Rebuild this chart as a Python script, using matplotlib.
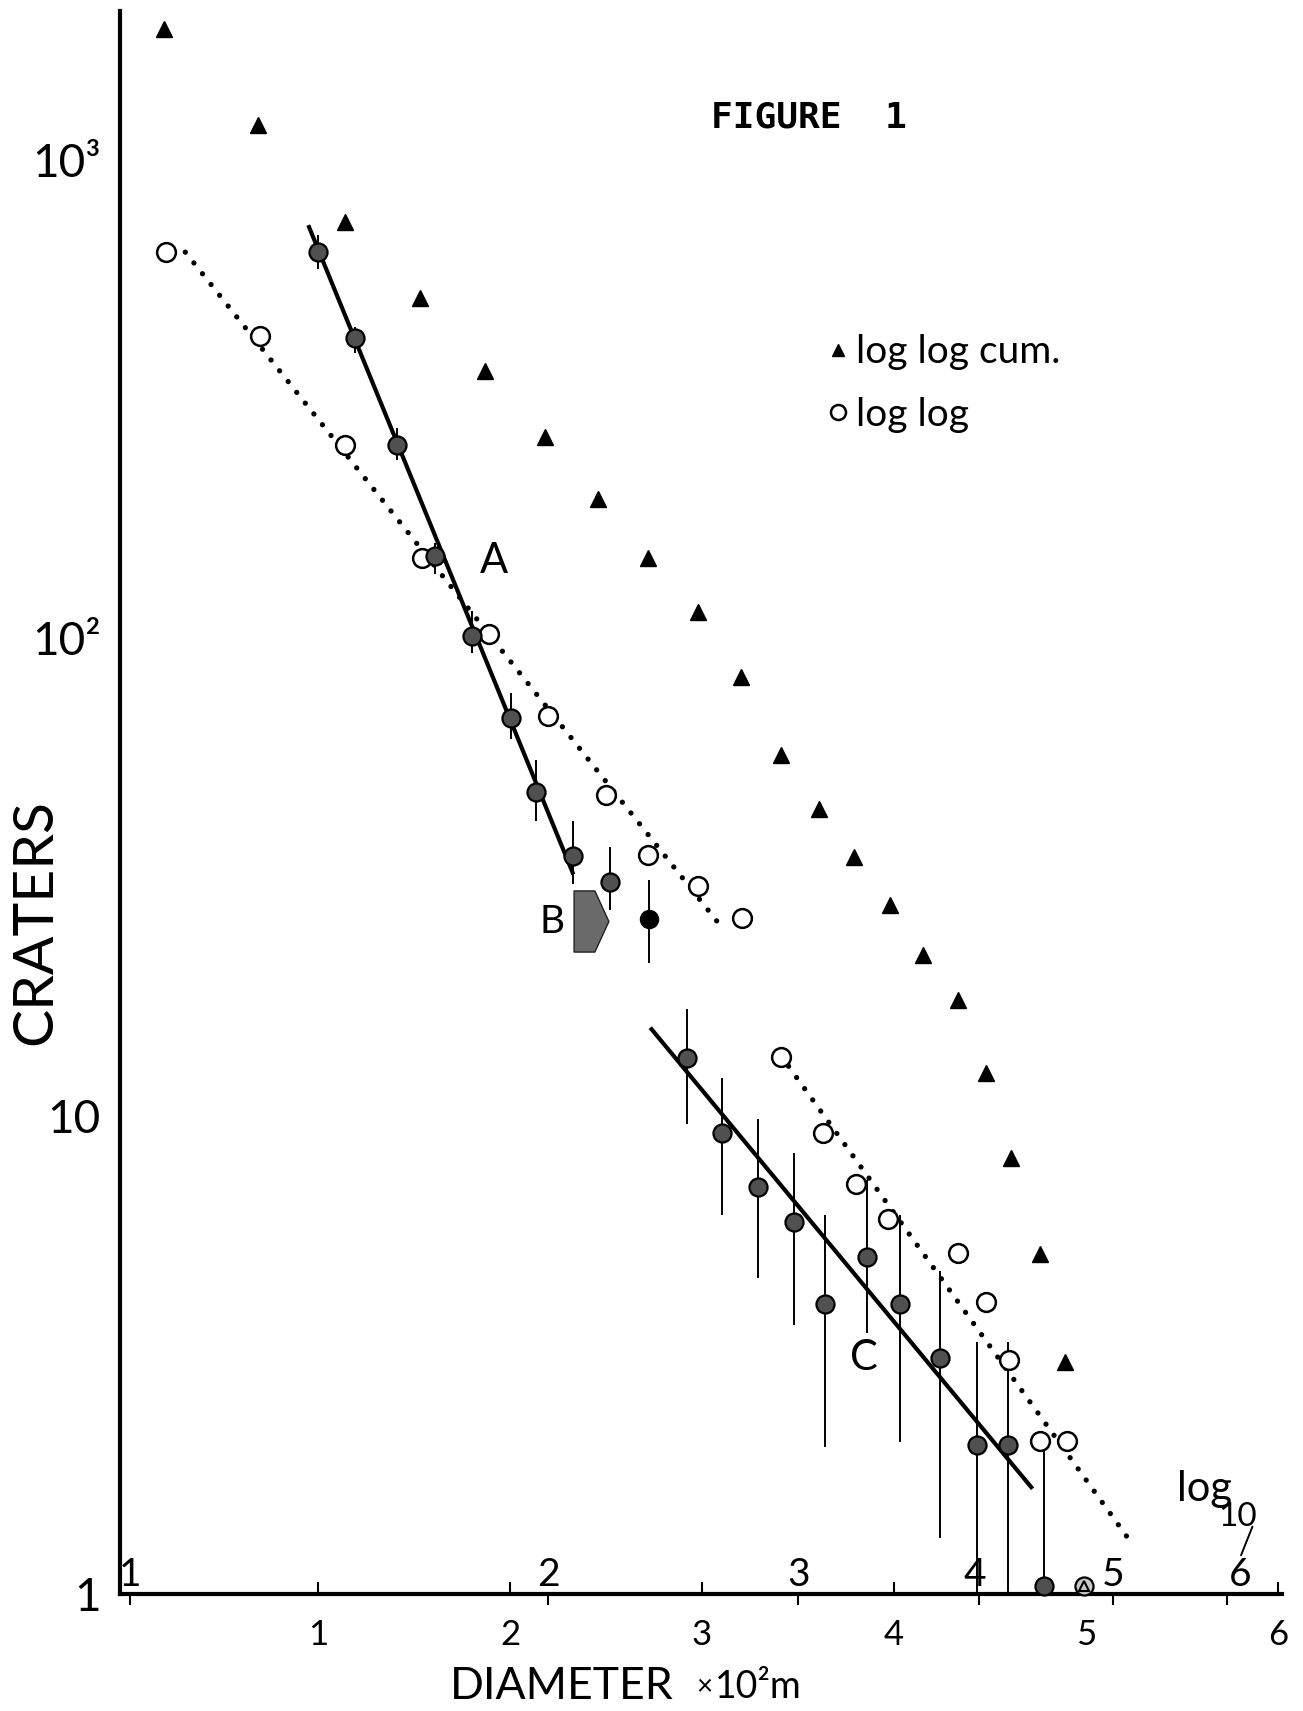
import matplotlib.pyplot as plt
from matplotlib.path import Path

plt.rcParams['font.family'] = ['Lato', 'DejaVu Sans']

# log log cum. (triangles)
cum_x = [0.20, 0.69, 1.14, 1.53, 1.87, 2.18, 2.46, 2.72, 2.98, 3.20,
         3.41, 3.61, 3.79, 3.98, 4.15, 4.33, 4.48, 4.61, 4.76, 4.89]
cum_y = [1880, 1183, 741, 513, 362, 263, 195, 147, 113, 82.8,
         57, 43.8, 34.8, 27.6, 21.7, 17.5, 12.3, 8.15, 5.13, 3.06]

# log log (open circles)
ll_x = [0.21, 0.70, 1.14, 1.54, 1.89, 2.20, 2.50, 2.72, 2.98, 3.21,
        3.41, 3.63, 3.80, 3.97, 4.33, 4.48, 4.60, 4.76, 4.90]
ll_y = [641, 427, 253, 147, 102, 68.5, 46.9, 35.1, 30.3, 25.9,
        13.3, 9.2, 7.2, 6.08, 5.16, 4.09, 3.08, 2.09, 2.09]

# shaded points with error bars
pt_x = [1.00, 1.195, 1.41, 1.61, 1.80, 2.006, 2.136, 2.33, 2.52, 2.725,
        2.92, 3.106, 3.29, 3.48, 3.64, 3.86, 4.03, 4.24, 4.43, 4.59, 4.78]
pt_y = [641, 424, 253, 148, 101, 68, 47.5, 35, 30.8, 25.8,
        13.2, 9.2, 7.1, 6.0, 4.05, 5.08, 4.05, 3.11, 2.05, 2.05, 1.04]
err_hi = [697, 448, 275, 158, 114, 76.7, 55.5, 41.3, 36.6, 31.1,
          16.7, 12.0, 9.84, 8.36, 6.2, 7.33, 6.2, 4.74, 3.37, 3.37, 2.0]
err_lo = [590, 394, 235, 136, 93, 61.5, 41.3, 30.5, 27, 20.9,
          9.6, 6.2, 4.57, 3.66, 2.03, 3.51, 2.08, 1.31, 1.0, 1.0, 1.0]
solid_idx = 9  # the solid black point after B
mixed_x = [4.99]
mixed_y = [1.04]

# fitted lines
fitA_x = [0.95, 2.33]
fitA_y = [730, 32]
fitC_x = [2.73, 4.72]
fitC_y = [15.3, 1.66]
dotA_x = [0.31, 3.12]
dotA_y = [641, 24.3]
dotC_x = [3.45, 5.21]
dotC_y = [12.7, 1.32]

# B arrow marker
b_x, b_y = 2.42, 25.6

# axis labels
x_ticks = [1, 2, 3, 4, 5, 6]
y_ticks = [1, 10, 100, 1000]
y_ticklabels = ['1', '10', '10²', '10³']
log_pos = [0.02, 2.20, 3.50, 4.44, 5.14, 5.73]
log_lab = ['1', '2', '3', '4', '5', '6']
log_dx = [0, 0, 0, -3, 0, 10]

fig = plt.figure(figsize=(13.03, 17.11), dpi=100)
ax = fig.add_axes([0.0921, 0.0684, 0.892, 0.9253])
ax.set_yscale('log')
ax.set_xlim(-0.03, 6.02)
ax.set_ylim(1, 2050)

for s in ['top', 'right']:
    ax.spines[s].set_visible(False)
for s in ['left', 'bottom']:
    ax.spines[s].set_linewidth(3)

# error bars
ax.vlines(pt_x, err_lo, err_hi, color='k', lw=1.4, zorder=2)

# fit lines
ax.plot(fitA_x, fitA_y, color='k', lw=3, solid_capstyle='butt', zorder=3)
ax.plot(fitC_x, fitC_y, color='k', lw=3, solid_capstyle='butt', zorder=3)
ax.plot(dotA_x, dotA_y, color='k', lw=3.8, ls=(0, (0.01, 2.6)),
        dash_capstyle='round', zorder=3)
ax.plot(dotC_x, dotC_y, color='k', lw=3.8, ls=(0, (0.01, 2.6)),
        dash_capstyle='round', zorder=3)

tri, = ax.plot(cum_x, cum_y, '^', ms=11, color='k', ls='none', zorder=4,
               label='log log cum.')
circ, = ax.plot(ll_x, ll_y, 'o', ms=13.5, mfc='white', mec='k', mew=1.8,
                ls='none', zorder=4, label='log log')
fill_x = [x for i, x in enumerate(pt_x) if i != solid_idx]
fill_y = [y for i, y in enumerate(pt_y) if i != solid_idx]
ax.plot(fill_x, fill_y, 'o', ms=13, mfc='#505050', mec='k', mew=1.6,
        ls='none', zorder=5, clip_on=False)
ax.plot([pt_x[solid_idx]], [pt_y[solid_idx]], 'o', ms=13, color='k',
        ls='none', zorder=5)
ax.plot(mixed_x, mixed_y, 'o', ms=13, mfc='#c8c8c8', mec='k', mew=1.6,
        ls='none', zorder=5, clip_on=False)
ax.plot(mixed_x, mixed_y, '^', ms=7, mfc='none', mec='k', mew=1.5,
        ls='none', zorder=6, clip_on=False)

# B arrow
arrow = Path([(-0.57, -1), (0.11, -1), (0.57, 0), (0.11, 1), (-0.57, 1), (-0.57, -1)],
             [Path.MOVETO, Path.LINETO, Path.LINETO, Path.LINETO, Path.LINETO,
              Path.CLOSEPOLY])
ax.plot([b_x], [b_y], marker=arrow, ms=44, mfc='#6a6a6a', mec='#222', mew=1,
        ls='none', zorder=4)

# ticks
ax.set_xticks(x_ticks)
ax.set_xticklabels([str(t) for t in x_ticks])
ax.tick_params(axis='x', which='major', direction='in', length=9, width=1.5,
               pad=18, labelsize=25)
ax.set_xticks(log_pos, minor=True)
ax.tick_params(axis='x', which='minor', direction='out', length=8, width=1.5)
ax.set_yticks(y_ticks)
ax.set_yticklabels(y_ticklabels)
ax.yaxis.set_minor_locator(plt.NullLocator())
ax.tick_params(axis='y', which='major', length=0, pad=14, labelsize=33)
for lab in ax.get_yticklabels():
    lab.set_family(['Liberation Sans Narrow', 'Lato'])

# second (log10) scale written along the axis
for pos, lab, dx in zip(log_pos, log_lab, log_dx):
    ax.annotate(lab, xy=(pos, 1), xytext=(dx, 6), textcoords='offset points',
                ha='center', va='baseline', fontsize=28, annotation_clip=False)
ax.text(5.614, 1.656, 'log', fontsize=30, ha='center', va='center')
ax.text(5.79, 1.45, '10', fontsize=24, ha='center', va='center')
ax.annotate('', xy=(5.80, 1.19), xytext=(5.87, 1.40),
            arrowprops=dict(arrowstyle='-', lw=1.4, color='k'))

ax.text(1.917, 144.5, 'A', fontsize=30, ha='center', va='center')
ax.text(2.218, 25.5, 'B', fontsize=28, ha='center', va='center')
ax.text(3.84, 3.11, 'C', fontsize=30, ha='center', va='center')
ax.text(3.555, 1228, 'FIGURE  1', fontsize=26, ha='center', va='center',
        family='DejaVu Sans Mono', weight='bold')

ax.legend(handles=[tri, circ], loc='upper left', bbox_to_anchor=(0.593, 0.808),
          frameon=False, fontsize=28, handlelength=0.5, handletextpad=0.2,
          labelspacing=0.68, borderpad=0, markerscale=0.8)

ax.set_ylabel('CRATERS', fontsize=41, va='center')
ax.yaxis.set_label_coords(-0.0723, 0.4242)
ax.set_xlabel('DIAMETER', fontsize=32, va='center')
ax.xaxis.set_label_coords(0.380, -0.0587)
ax.text(0.5026, -0.0587, '×', fontsize=20, ha='center', va='center',
        transform=ax.transAxes)
ax.text(0.512, -0.0587, '10²m', fontsize=27, ha='left', va='center',
        transform=ax.transAxes, family=['Liberation Sans Narrow', 'Lato'])

fig.savefig('out.png', dpi=100, facecolor='white')
